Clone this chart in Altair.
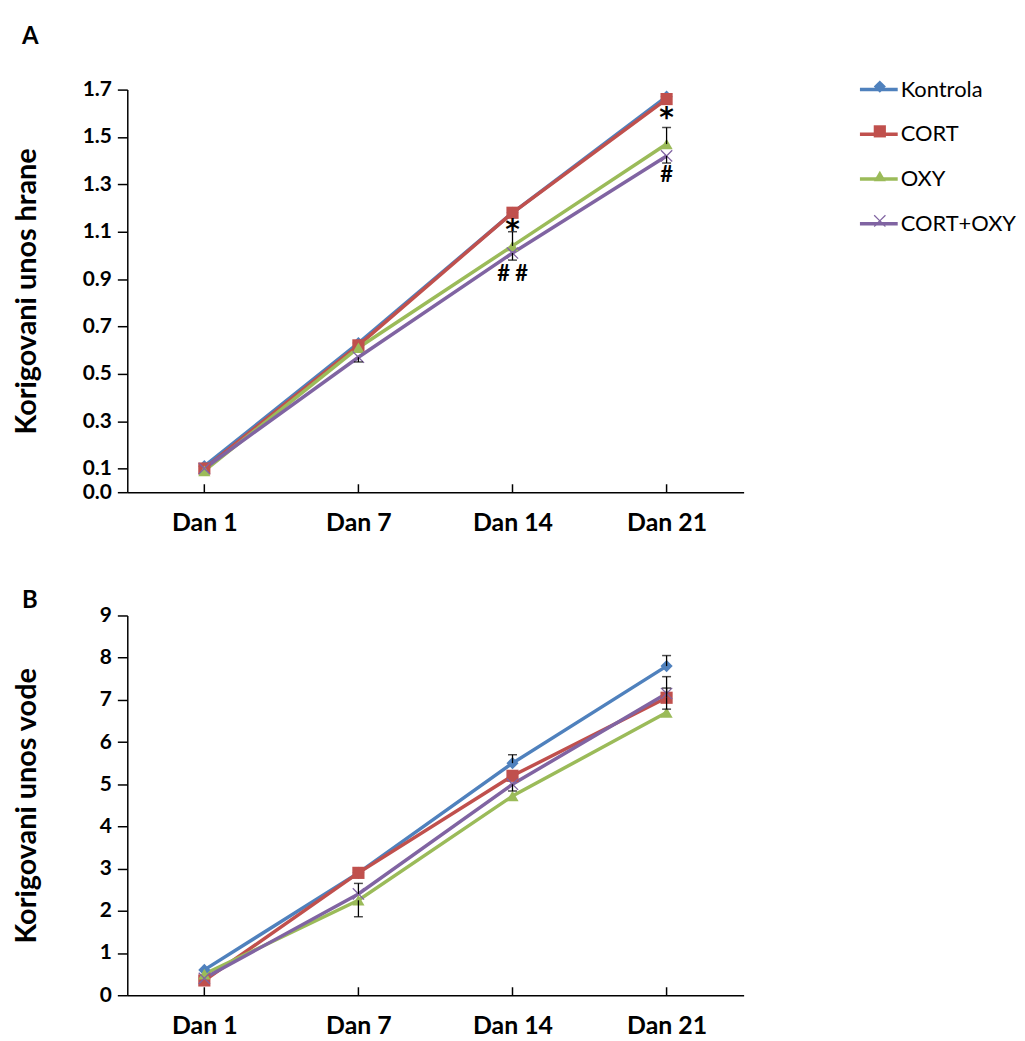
import altair as alt
import pandas as pd

days = ["Dan 1", "Dan 7", "Dan 14", "Dan 21"]
series = ["Kontrola", "CORT", "OXY", "CORT+OXY"]
colors = ["#4F81BD", "#C0504D", "#9BBB59", "#8064A2"]
x_path = "M-0.85,-1L0,-0.15L0.85,-1L1,-0.85L0.15,0L1,0.85L0.85,1L0,0.15L-0.85,1L-1,0.85L-0.15,0L-1,-0.85Z"
shapes = ["diamond", "square", "triangle-up", x_path]

# Panel A: Korigovani unos hrane
food_kontrola = [0.11, 0.63, 1.18, 1.67]
food_cort = [0.10, 0.62, 1.18, 1.66]
food_oxy = [0.09, 0.61, 1.04, 1.47]
food_cortoxy = [0.10, 0.57, 1.01, 1.42]
food_err_series = ["OXY", "OXY", "CORT+OXY", "CORT+OXY", "CORT+OXY"]
food_err_day = ["Dan 14", "Dan 21", "Dan 14", "Dan 21", "Dan 7"]
food_err_end = [1.10, 1.54, 0.98, 1.39, 0.55]
food_star_day = ["Dan 14", "Dan 21"]
food_star_val = [1.13, 1.60]
food_hash_text = ["# #", "#"]
food_hash_day = ["Dan 14", "Dan 21"]
food_hash_val = [0.92, 1.34]
food_ticks = [0.0, 0.1, 0.3, 0.5, 0.7, 0.9, 1.1, 1.3, 1.5, 1.7]

# Panel B: Korigovani unos vode
water_kontrola = [0.60, 2.90, 5.50, 7.80]
water_cort = [0.35, 2.90, 5.20, 7.05]
water_oxy = [0.50, 2.25, 4.72, 6.70]
water_cortoxy = [0.40, 2.40, 5.00, 7.15]
water_err_series = ["Kontrola", "Kontrola", "CORT+OXY", "CORT", "CORT", "OXY", "CORT+OXY", "CORT+OXY"]
water_err_day = ["Dan 21", "Dan 14", "Dan 21", "Dan 21", "Dan 21", "Dan 7", "Dan 7", "Dan 14"]
water_err_end = [8.05, 5.70, 7.55, 7.28, 6.78, 1.86, 2.65, 4.84]
water_ticks = [0, 1, 2, 3, 4, 5, 6, 7, 8, 9]

FONT = "Lato"
marker_keys = [s + " " for s in series]


def make_df(vals_list):
    rows = []
    for s, m, vals in zip(series, marker_keys, vals_list):
        for d, v in zip(days, vals):
            rows.append({"series": s, "mk": m, "day": d, "value": v})
    return pd.DataFrame(rows)


def make_err(df, es, ed, ee):
    rows = []
    for s, d, e in zip(es, ed, ee):
        v = df[(df.series == s) & (df.day == d)]["value"].iloc[0]
        rows.append({"series": s, "day": d, "value": v, "end": e})
    return pd.DataFrame(rows)


line_legend = alt.Legend(
    title=None, orient="none", legendX=735, legendY=-21,
    symbolType="stroke", symbolSize=1444, symbolStrokeWidth=3.5,
    labelFontSize=22, labelFont=FONT, labelColor="black", labelOffset=1,
    rowPadding=13,
)
marker_legend = alt.Legend(
    title=None, orient="none", legendX=746, legendY=-14,
    symbolSize=150, symbolStrokeWidth=0, labelExpr="''",
    labelFontSize=22, labelFont=FONT, rowPadding=23,
)


def panel(df, err, stars, hashes, domain, ticks, fmt, ytitle, letter, height, toff, tdy):
    x = alt.X(
        "day:N", sort=days,
        scale=alt.Scale(type="point", padding=0.5),
        axis=alt.Axis(title=None, ticks=False, labelPadding=19, labelFontSize=25,
                      labelFont=FONT, labelFontWeight="bold", labelColor="black",
                      labelAlign="center", domainColor="black", domainWidth=1.5,
                      labelAngle=0),
    )
    y = alt.Y(
        "value:Q",
        scale=alt.Scale(domain=domain, nice=False, zero=True),
        axis=alt.Axis(values=ticks, format=fmt, title=ytitle, titleX=-86,
                      titleFontSize=29, titleFont=FONT, titleFontWeight="bold",
                      titleColor="black", labelFontSize=21, labelFont=FONT,
                      labelFontWeight="bold", labelColor="black", tickSize=10,
                      tickWidth=1.5, tickColor="black", domainColor="black",
                      domainWidth=1.5, grid=False, labelPadding=6),
    )
    base = alt.Chart(df)
    lines = base.mark_line(strokeWidth=3.5).encode(
        x=x, y=y,
        stroke=alt.Stroke("series:N", sort=series,
                          scale=alt.Scale(domain=series, range=colors),
                          legend=line_legend),
    )
    pts = base.mark_point(filled=True, opacity=1, strokeWidth=0).encode(
        x=x, y=y,
        fill=alt.Fill("mk:N", scale=alt.Scale(domain=marker_keys, range=colors),
                      legend=marker_legend),
        shape=alt.Shape("mk:N", scale=alt.Scale(domain=marker_keys, range=shapes),
                        legend=marker_legend),
        size=alt.value(150),
    )
    ebar = alt.Chart(err).mark_rule(color="black", strokeWidth=1.3).encode(
        x=x, y="value:Q", y2="end:Q")
    ecap = alt.Chart(err).mark_tick(color="black", thickness=1.5, size=9,
                                    orient="horizontal").encode(
        x=x, y=alt.Y("end:Q"))
    xticks = alt.Chart(pd.DataFrame({"day": days})).mark_rule(
        color="black", strokeWidth=1.5).encode(
        x=x, y=alt.value(height), y2=alt.value(height - 8))
    layers = [lines, xticks, pts, ebar, ecap]
    if stars is not None:
        layers.append(alt.Chart(stars).mark_text(
            fontSize=28, font="DejaVu Sans", fontWeight="bold", color="black",
            baseline="middle", dy=6).encode(
            x=x, y="value:Q", text="text:N"))
    if hashes is not None:
        layers.append(alt.Chart(hashes).mark_text(
            fontSize=22, font=FONT, fontWeight="bold", color="black",
            baseline="middle").encode(
            x=x, y="value:Q", text="text:N"))
    return alt.layer(*layers).properties(
        width=620, height=height,
        title=alt.TitleParams(letter, anchor="start", frame="bounds", fontSize=24,
                              font=FONT, fontWeight="bold", color="black",
                              offset=toff, dx=9, dy=tdy),
    )


df_a = make_df([food_kontrola, food_cort, food_oxy, food_cortoxy])
df_b = make_df([water_kontrola, water_cort, water_oxy, water_cortoxy])
err_a = make_err(df_a, food_err_series, food_err_day, food_err_end)
err_b = make_err(df_b, water_err_series, water_err_day, water_err_end)
stars_a = pd.DataFrame({"text": ["*"] * len(food_star_day), "day": food_star_day,
                        "value": food_star_val})
hash_a = pd.DataFrame({"text": food_hash_text, "day": food_hash_day, "value": food_hash_val})

pa = panel(df_a, err_a, stars_a, hash_a, [0, 1.7], food_ticks, ".1f",
           "Korigovani unos hrane", "A", 405, 30, 0)
pb = panel(df_b, err_b, None, None, [0, 9], water_ticks, "d",
           "Korigovani unos vode", "B", 382, 2, 10)

chart = alt.vconcat(pa, pb, spacing=53).properties(
    padding={"left": 5, "top": 14, "right": 0, "bottom": 5}
).configure_view(stroke=None)

chart.save("out.html", embed_options={"renderer": "svg", "actions": False})
